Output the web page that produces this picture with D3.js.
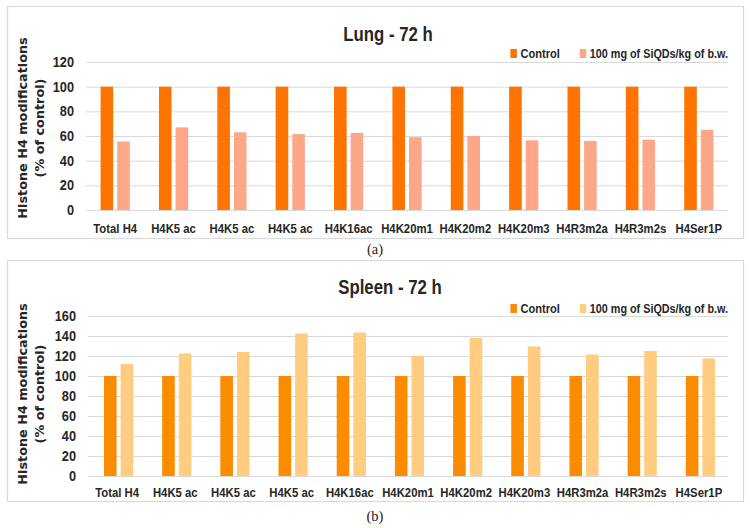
<!DOCTYPE html>
<html><head><meta charset="utf-8">
<script src="https://cdn.jsdelivr.net/npm/d3@7"></script>
<style>
body{margin:0;background:#fff;}
svg{display:block;}
</style></head>
<body><svg id="c" width="750" height="528"></svg>
<script>
const categories = ["Total H4","H4K5 ac","H4K5 ac","H4K5 ac","H4K16ac","H4K20m1","H4K20m2","H4K20m3","H4R3m2a","H4R3m2s","H4Ser1P"];
const seriesNames = ["Control","100 mg of SiQDs/kg of b.w."];
const lungControl = [100,100,100,100,100,100,100,100,100,100,100];
const lungTreated = [55.5,67,63,61.5,62.5,59,60,56.5,56,57,65];
const spleenControl = [100,100,100,100,100,100,100,100,100,100,100];
const spleenTreated = [112,122.5,124,142.5,143.5,120,138,129.5,121.5,125,117.5];
const lungTicks = [0,20,40,60,80,100,120];
const spleenTicks = [0,20,40,60,80,100,120,140,160];
const yTitle1 = "Histone H4 modifications";
const yTitle2 = "(% of control)";

const svg = d3.select("#c");
const bodyFont = "'Liberation Sans',Arial,sans-serif";

// horizontally condense text with a transform (keeps bounding boxes accurate)
function squeeze(sel, f){
  sel.each(function(){
    const s = d3.select(this);
    const x = +(s.attr("x") || 0);
    s.attr("x", x/f).attr("transform", `scale(${f},1)`);
  });
}

function panel(o){
  const g = svg.append("g");
  g.append("rect").attr("x",o.box[0]+0.5).attr("y",o.box[1]+0.5)
    .attr("width",o.box[2]).attr("height",o.box[3])
    .attr("fill","#fff").attr("stroke","#d9d9d9").attr("stroke-width",1.2);
  const x = d3.scaleBand().domain(d3.range(categories.length)).range([o.x0,o.x1]);
  const y = d3.scaleLinear().domain([0,o.ticks[o.ticks.length-1]]).range([o.y0,o.yTop]);
  const ax = d3.axisLeft(y).tickValues(o.ticks).tickSize(-(o.x1-o.x0)).tickPadding(12).tickFormat(d3.format("d"));
  const ag = g.append("g").attr("transform",`translate(${o.x0},0)`).call(ax);
  ag.select(".domain").remove();
  ag.selectAll(".tick line").attr("stroke","#d9d9d9").attr("stroke-width",1);
  const tt = ag.selectAll(".tick text").attr("fill","#262626").attr("font-family",bodyFont)
    .attr("font-weight","bold").attr("font-size",14.5);
  squeeze(tt, 0.88);
  const bw = 12.6, gap = 4;
  const c = x.bandwidth()/2;
  g.selectAll(".b1").data(o.a).join("rect")
    .attr("x",(d,i)=>x(i)+c-bw-gap/2+o.shift).attr("width",bw)
    .attr("y",d=>y(d)).attr("height",d=>y(0)-y(d)).attr("fill",o.c1);
  g.selectAll(".b2").data(o.b).join("rect")
    .attr("x",(d,i)=>x(i)+c+gap/2+o.shift).attr("width",bw)
    .attr("y",d=>y(d)).attr("height",d=>y(0)-y(d)).attr("fill",o.c2);
  const xa = d3.axisBottom(x).tickSize(0).tickPadding(o.xPad).tickFormat(i=>categories[i]);
  const xg = g.append("g").attr("transform",`translate(0,${o.y0})`).call(xa);
  xg.select(".domain").remove();
  const ct = xg.selectAll(".tick text").attr("fill","#262626").attr("font-family",bodyFont)
    .attr("font-weight","bold").attr("font-size",13.5);
  squeeze(ct, 0.84);
  const ti = g.append("text").attr("x",o.titleX).attr("y",o.titleY).attr("text-anchor","middle")
    .attr("font-family",bodyFont).attr("font-weight","bold").attr("font-size",20)
    .attr("fill","#262626").text(o.title);
  squeeze(ti, 0.84);
  // legend, right aligned to plot edge
  const lg = g.append("g").attr("font-family",bodyFont).attr("font-weight","bold")
    .attr("font-size",13.5).attr("fill","#262626");
  const t2 = lg.append("text").attr("y",o.legY+4.5).attr("text-anchor","end").text(seriesNames[1]);
  const w2 = t2.node().getComputedTextLength()*0.8;
  t2.attr("x",o.x1); squeeze(t2, 0.8);
  const m2 = o.x1-w2-10;
  const t1 = lg.append("text").attr("y",o.legY+4.5).attr("text-anchor","end").text(seriesNames[0]);
  const w1 = t1.node().getComputedTextLength()*0.82;
  t1.attr("x",m2-20); squeeze(t1, 0.82);
  lg.append("rect").attr("x",m2).attr("y",o.legY-5).attr("width",6.5).attr("height",9).attr("fill",o.c2);
  lg.append("rect").attr("x",m2-20-w1-10).attr("y",o.legY-5).attr("width",6.5).attr("height",9).attr("fill",o.c1);
  const yt = g.append("text").attr("transform",`translate(22,${o.yTitleC}) rotate(-90)`)
    .attr("text-anchor","middle").attr("font-family","'DejaVu Sans',sans-serif")
    .attr("font-weight","bold").attr("font-size",12.8).attr("fill","#262626");
  yt.append("tspan").attr("x",0).attr("dy",5).text(yTitle1);
  yt.append("tspan").attr("x",0).attr("dy",16.5).text(yTitle2);
  g.append("text").attr("x",375).attr("y",o.labY).attr("text-anchor","middle")
    .attr("font-family","'Liberation Serif','Times New Roman',serif").attr("font-size",14.5)
    .attr("fill","#222").text(o.lab);
}

panel({box:[7,6,736,232],x0:86,x1:728,y0:210,yTop:62,ticks:lungTicks,a:lungControl,b:lungTreated,
  c1:"#FF7300",c2:"#FCA888",title:"Lung - 72 h",titleX:388,titleY:41,legY:54,yTitleC:128,xPad:13,
  lab:"(a)",labY:254,shift:0});
panel({box:[7,260,736,241],x0:88,x1:728,y0:476,yTop:316,ticks:spleenTicks,a:spleenControl,b:spleenTreated,
  c1:"#FB8C00",c2:"#FFCC80",title:"Spleen - 72 h",titleX:390,titleY:294,legY:309,yTitleC:394,xPad:11,
  lab:"(b)",labY:521,shift:1.5});
</script></body></html>
